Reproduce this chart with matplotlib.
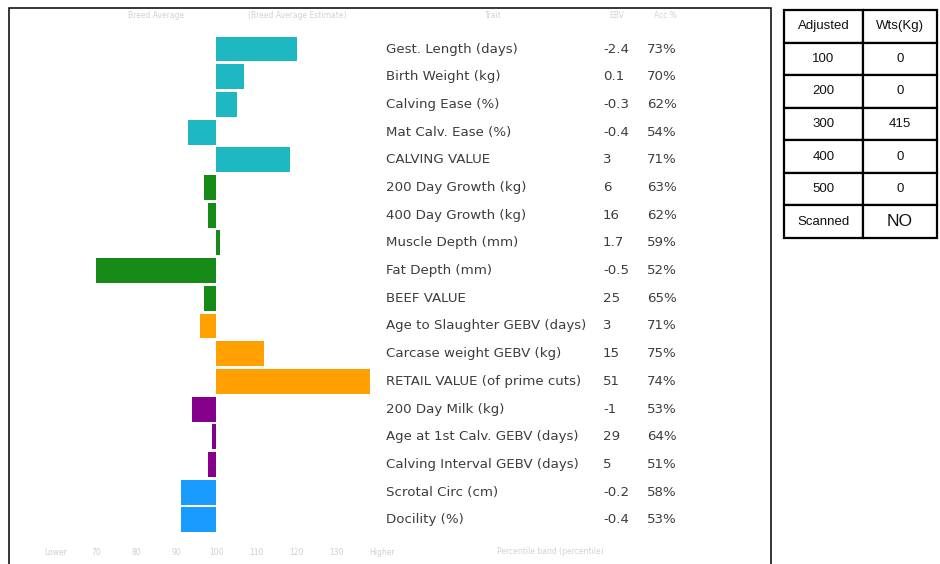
import matplotlib
matplotlib.use('Agg')
import matplotlib.pyplot as plt
import matplotlib.transforms as mtransforms
from matplotlib.patches import Rectangle

# trait names, EBVs, accuracies and bar index (100 = breed average)
traits = ['Gest. Length (days)', 'Birth Weight (kg)', 'Calving Ease (%)',
          'Mat Calv. Ease (%)', 'CALVING VALUE', '200 Day Growth (kg)',
          '400 Day Growth (kg)', 'Muscle Depth (mm)', 'Fat Depth (mm)',
          'BEEF VALUE', 'Age to Slaughter GEBV (days)', 'Carcase weight GEBV (kg)',
          'RETAIL VALUE (of prime cuts)', '200 Day Milk (kg)',
          'Age at 1st Calv. GEBV (days)', 'Calving Interval GEBV (days)',
          'Scrotal Circ (cm)', 'Docility (%)']
ebv = ['-2.4', '0.1', '-0.3', '-0.4', '3', '6', '16', '1.7', '-0.5', '25', '3',
       '15', '51', '-1', '29', '5', '-0.2', '-0.4']
acc = ['73%', '70%', '62%', '54%', '71%', '63%', '62%', '59%', '52%', '65%', '71%',
       '75%', '74%', '53%', '64%', '51%', '58%', '53%']
index = [120.2, 107, 105.2, 93, 118.5, 97, 98, 101, 70, 97, 96, 112, 138.5,
         94, 99, 98, 91.2, 91.2]
groups = ['calving'] * 5 + ['beef'] * 5 + ['carcase'] * 3 + ['maternal'] * 3 + ['other'] * 2

tick_vals = [60, 70, 80, 90, 100, 110, 120, 130, 141.5]
tick_labels = ['Lower', '70', '80', '90', '100', '110', '120', '130', 'Higher']

table_rows = [['Adjusted', 'Wts(Kg)'], ['100', '0'], ['200', '0'], ['300', '415'],
              ['400', '0'], ['500', '0'], ['Scanned', 'NO']]

colours = {'calving': '#1DB8C2', 'beef': '#168A16', 'carcase': '#FFA000',
           'maternal': '#84008A', 'other': '#1A9BFF'}

W, H = 940, 564
fig = plt.figure(figsize=(W / 100, H / 100), dpi=100)

#bar axes
ax = fig.add_axes([40 / W, 30 / H, 352 / W, 512 / H])
ypos = list(range(len(traits)))
ax.barh(ypos, [v - 100 for v in index], left=100, height=0.9,
        color=[colours[g] for g in groups])
ax.set_xlim(56, 144)
ax.set_ylim(17.51, -0.975)
ax.set_yticks([])
ax.set_xticks(tick_vals)
ax.set_xticklabels(tick_labels, fontsize=5.5, color='#cfcfcf')
ax.tick_params(axis='x', length=0, pad=10)
for s in ax.spines.values():
    s.set_visible(False)

#trait text columns
tr = mtransforms.blended_transform_factory(fig.transFigure, ax.transData)
txt = dict(transform=tr, fontsize=9.6, color='#3d3d3d', va='center', ha='left',
           clip_on=False)
for i in ypos:
    ax.text(386 / W, i, traits[i], **txt)
    ax.text(603 / W, i, ebv[i], **txt)
    ax.text(647 / W, i, acc[i], **txt)

#faint header / footer
faint = '#d2d2d2'
fig.text(156 / W, 1 - 16 / H, 'Breed Average', fontsize=5.5, color=faint, ha='center', va='center')
fig.text(297 / W, 1 - 16 / H, '(Breed Average Estimate)', fontsize=5.5, color=faint, ha='center', va='center')
fig.text(493 / W, 1 - 16 / H, 'Trait', fontsize=5.5, color=faint, ha='center', va='center')
fig.text(617 / W, 1 - 16 / H, 'EBV', fontsize=5.5, color=faint, ha='center', va='center')
fig.text(665 / W, 1 - 16 / H, 'Acc %', fontsize=5.5, color=faint, ha='center', va='center')
fig.text(550 / W, 1 - 551 / H, 'Percentile band (percentile)', fontsize=5.5, color=faint,
         ha='center', va='center')

#outer frame (bottom edge runs off the image)
fig.add_artist(Rectangle((9 / W, -0.05), 762 / W, 1 - 8 / H + 0.05,
                         transform=fig.transFigure, fill=False, lw=1.1, ec='black'))

#weights table
tax = fig.add_axes([784 / W, 1 - 238 / H, 153 / W, 228 / H])
tax.axis('off')
tbl = tax.table(cellText=table_rows, colWidths=[79 / 153, 74 / 153],
                cellLoc='center', bbox=[0, 0, 1, 1])
tbl.auto_set_font_size(False)
for (r, c), cell in tbl.get_celld().items():
    cell.set_linewidth(1.6)
    cell.set_edgecolor('black')
    cell.get_text().set_fontfamily('Liberation Sans')
    cell.get_text().set_fontsize(9.5)
    cell.get_text().set_color('#111111')
    if r == 6 and c == 1:
        cell.get_text().set_fontsize(12.5)

fig.savefig('out.png', dpi=100)
